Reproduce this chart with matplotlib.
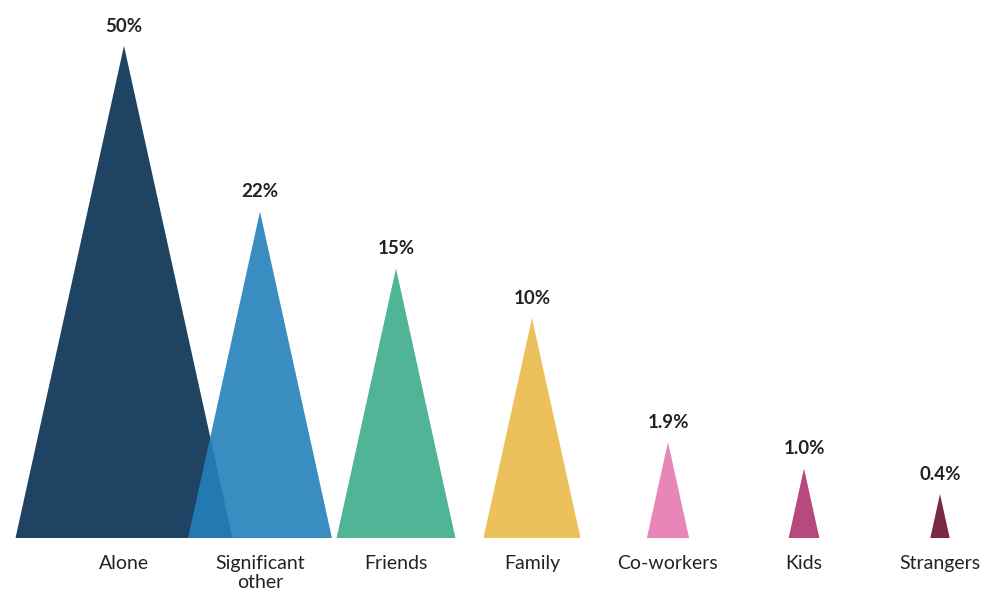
import numpy as np
import matplotlib.pyplot as plt

plt.rcParams['font.family'] = ['Lato', 'DejaVu Sans']

categories = ['Alone', 'Significant\nother', 'Friends', 'Family', 'Co-workers', 'Kids', 'Strangers']
values = [50, 22, 15, 10, 1.9, 1.0, 0.4]
value_labels = ['50%', '22%', '15%', '10%', '1.9%', '1.0%', '0.4%']
colors = ['#1f4463', '#2481bb', '#50b496', '#ecc15c', '#e986b9', '#b7497e', '#7b2948']
alphas = [1, 0.9, 1, 1, 1, 1, 1]

fig = plt.figure(figsize=(9.96, 6.01), dpi=100)
ax = fig.add_axes([0, 0, 1, 1])

# triangle height and width scale with sqrt(value) so area ~ value
half_w = 0.1128
for i, (v, c, a) in enumerate(zip(values, colors, alphas)):
    h = np.sqrt(v)
    w = half_w * h
    ax.fill([i - w, i, i + w], [0, h, 0], color=c, alpha=a, lw=0, zorder=2 + i)
    ax.annotate(value_labels[i], (i, h), xytext=(0, 8), textcoords='offset points',
                ha='center', va='bottom', fontsize=13.5, fontweight='bold', color='#222222')
    ax.annotate(categories[i], (i, 0), xytext=(0, -12), textcoords='offset points',
                ha='center', va='top', fontsize=14, color='#222222', linespacing=1.2)

ax.set_xlim(-124 / 136, (996 - 124) / 136)
ax.set_ylim(-63 / 69.6, (601 - 63) / 69.6)
ax.axis('off')

fig.savefig('out.png', dpi=100)
